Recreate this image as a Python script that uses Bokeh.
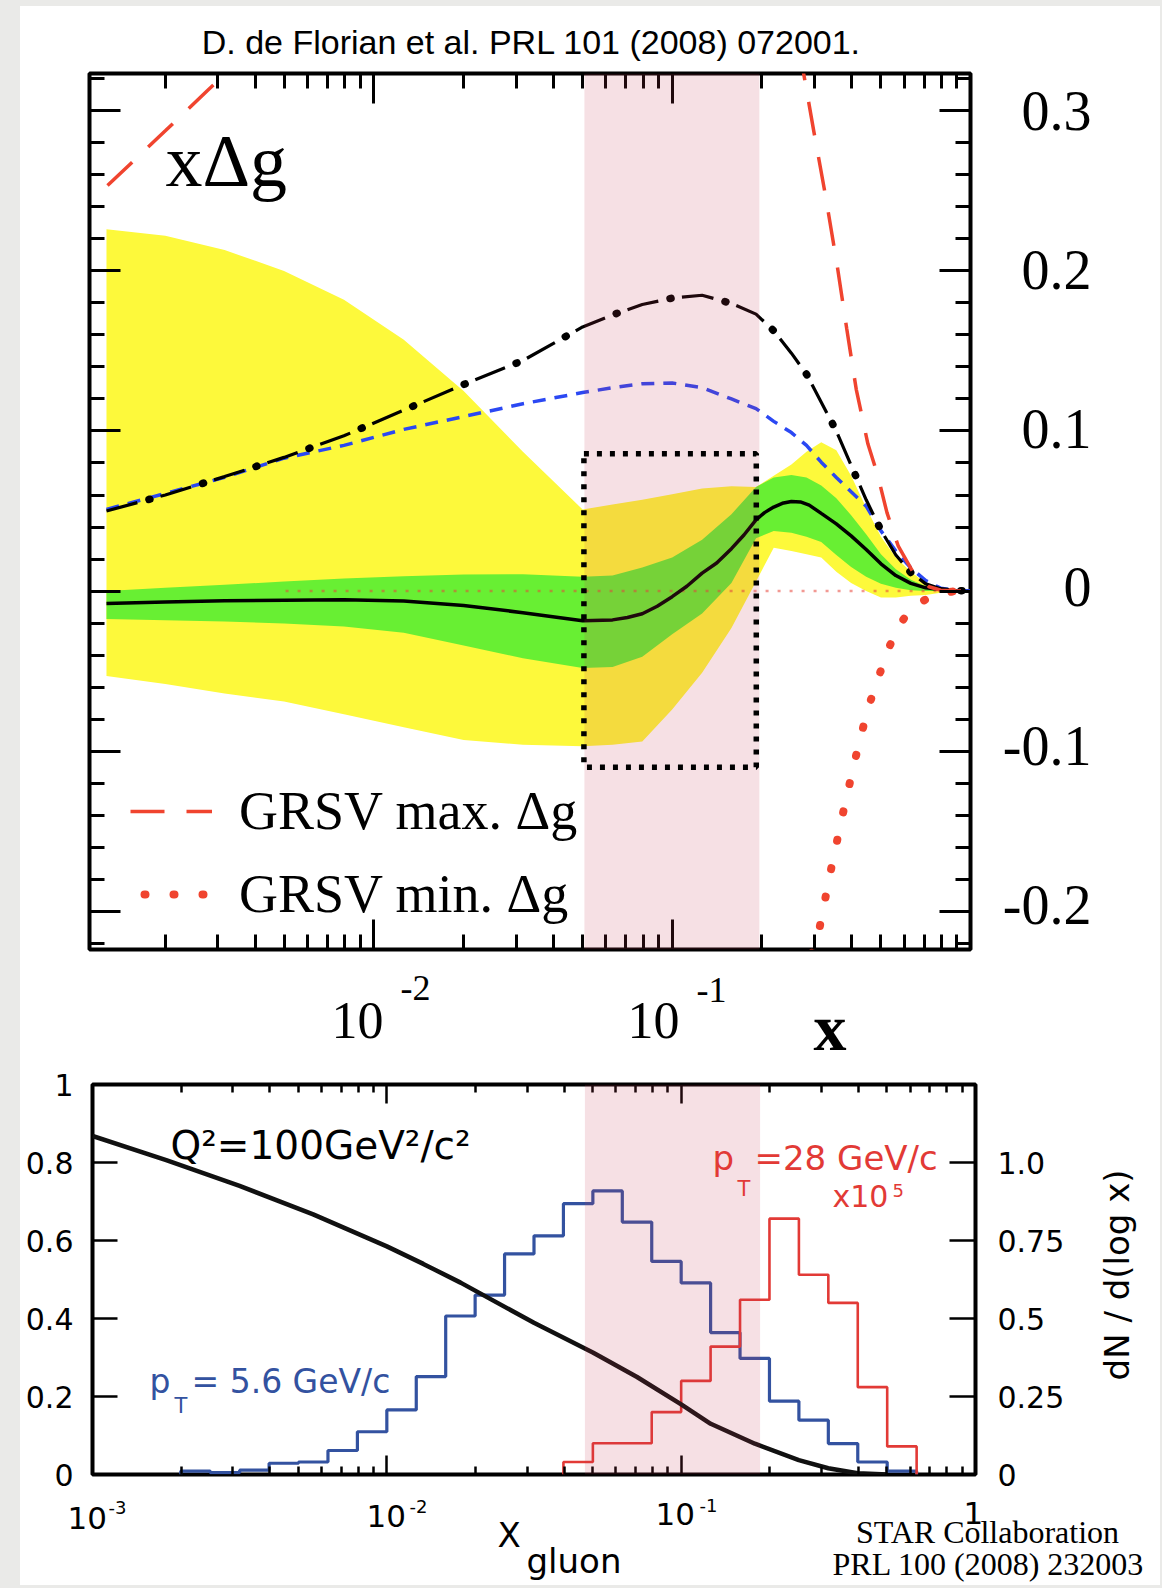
import numpy as np
from bokeh.plotting import figure
from bokeh.models import (Range1d, LinearAxis, LogAxis, FixedTicker, CustomJSTickFormatter,
                          BoxAnnotation, Label, Legend, LegendItem, Div)
from bokeh.layouts import row, column
from bokeh.embed import file_html
from bokeh.resources import INLINE

# ------------------------------------------------------------------
# DATA - top panel: x*Delta g (de Florian et al.)
# ------------------------------------------------------------------
dssv_x = [0.00127, 0.002, 0.00316, 0.005, 0.00794, 0.0126, 0.02, 0.0316, 0.0501, 0.0631,
          0.0794, 0.1, 0.126, 0.158, 0.191, 0.219, 0.251, 0.282, 0.316, 0.355,
          0.398, 0.447, 0.501, 0.562, 0.631, 0.708, 0.794, 0.891, 1.0]
band_dchi1_lo = [-0.0174, -0.0183, -0.019, -0.0202, -0.0221, -0.026, -0.034, -0.042, -0.048, -0.0475,
                 -0.041, -0.027, -0.014, 0.005, 0.033, 0.0375, 0.0365, 0.034, 0.0306, 0.0225,
                 0.015, 0.009, 0.0045, 0.002, 0.0005, 0.0, 0.0, 0.0, 0.0]
band_dchi1_hi = [0.0, 0.002, 0.004, 0.0059, 0.0078, 0.0093, 0.0103, 0.0105, 0.009, 0.0097,
                 0.0147, 0.021, 0.032, 0.048, 0.065, 0.071, 0.0725, 0.071, 0.066, 0.058,
                 0.0474, 0.0355, 0.023, 0.0137, 0.007, 0.003, 0.0012, 0.0003, 0.0]
band_dchi2_lo = [-0.053, -0.058, -0.064, -0.069, -0.077, -0.085, -0.093, -0.096, -0.097, -0.096,
                 -0.094, -0.074, -0.051, -0.023, 0.006, 0.027, 0.025, 0.023, 0.021, 0.012,
                 0.005, 0.0, -0.004, -0.004, -0.003, -0.0025, -0.001, -0.0003, 0.0]
band_dchi2_hi = [0.226, 0.222, 0.213, 0.200, 0.182, 0.157, 0.125, 0.087, 0.051, 0.054,
                 0.057, 0.0605, 0.064, 0.0655, 0.065, 0.072, 0.079, 0.087, 0.093, 0.088,
                 0.072, 0.052, 0.034, 0.021, 0.012, 0.005, 0.0015, 0.0003, 0.0]
grsv_std = [0.051, 0.061, 0.071, 0.083, 0.091, 0.101, 0.109, 0.117, 0.124, 0.127,
            0.1295, 0.130, 0.127, 0.120, 0.114, 0.106, 0.099, 0.091, 0.0805, 0.071,
            0.062, 0.053, 0.0376, 0.025, 0.0145, 0.0065, 0.0018, 0.0004, 0.0]
dns_curve = [0.050, 0.060, 0.0715, 0.0835, 0.097, 0.113, 0.129, 0.144, 0.165, 0.1725,
             0.179, 0.183, 0.1848, 0.1797, 0.173, 0.1626, 0.1486, 0.1355, 0.118, 0.100,
             0.0785, 0.057, 0.038, 0.0225, 0.0115, 0.0045, 0.0015, 0.0004, 0.0]

central_x = [0.00127, 0.002, 0.00316, 0.00501, 0.00794, 0.0126, 0.02, 0.0316, 0.0501, 0.0631,
             0.0708, 0.0794, 0.0891, 0.1, 0.112, 0.126, 0.141, 0.158, 0.174, 0.191,
             0.204, 0.219, 0.234, 0.251, 0.269, 0.288, 0.316, 0.355, 0.398, 0.447,
             0.501, 0.562, 0.631, 0.708, 0.794, 0.891, 1.0]
dssv_central = [-0.0077, -0.0068, -0.0061, -0.0058, -0.0055, -0.0062, -0.009, -0.0135, -0.0185, -0.018,
                -0.0165, -0.0142, -0.0095, -0.0035, 0.003, 0.0112, 0.0175, 0.0265, 0.035, 0.0445,
                0.049, 0.0525, 0.0548, 0.056, 0.0557, 0.0537, 0.0485, 0.042, 0.0345, 0.026,
                0.017, 0.0097, 0.0048, 0.002, 0.0009, 0.0003, 0.0]

grsv_max_left_x = [0.00128, 0.002, 0.00277, 0.00398]
grsv_max_left_y = [0.2533, 0.2875, 0.3127, 0.34]
grsv_max_right_x = [0.266, 0.2985, 0.3266, 0.3573, 0.3846, 0.414, 0.4529, 0.4875, 0.5248,
                    0.5728, 0.6457, 0.7261, 0.7943, 0.8913, 1.0]
grsv_max_right_y = [0.34, 0.287, 0.247, 0.2035, 0.164, 0.126, 0.092, 0.073, 0.049,
                    0.028, 0.011, 0.0027, 0.0005, 0.0, 0.0]
grsv_min_x = [0.285, 0.3126, 0.3396, 0.3707, 0.4074, 0.4519, 0.4842, 0.5188, 0.561,
              0.6353, 0.7603, 0.871, 1.0]
grsv_min_y = [-0.235, -0.2095, -0.1752, -0.1417, -0.1076, -0.074, -0.0575, -0.0412, -0.0249,
              -0.0100, -0.0021, -0.0003, 0.0]
zero_line_x = [0.00506, 1.0]
zero_line_y = [0.0, 0.0]

star_range_top = [0.0508, 0.196]          # shaded x-range (top panel)
box_x = [0.0506, 0.1914]                  # dotted box
box_y = [-0.110, 0.0857]

top_ytick_values = [-0.2, -0.1, 0.0, 0.1, 0.2, 0.3]
top_ytick_labels = ["-0.2", "-0.1", "0", "0.1", "0.2", "0.3"]

# ------------------------------------------------------------------
# DATA - bottom panel: STAR x_gluon distributions
# ------------------------------------------------------------------
blue_log_edges = [-2.7, -2.6, -2.5, -2.4, -2.3, -2.2, -2.1, -2.0, -1.9, -1.8, -1.7, -1.6, -1.5,
                  -1.4, -1.3, -1.2, -1.1, -1.0, -0.9, -0.8, -0.7, -0.6, -0.5, -0.4, -0.3, -0.2]
blue_pt56 = [0.011, 0.006, 0.014, 0.036, 0.040, 0.077, 0.137, 0.207, 0.314, 0.508, 0.575, 0.707,
             0.765, 0.868, 0.909, 0.809, 0.683, 0.614, 0.455, 0.372, 0.235, 0.174, 0.099, 0.040, 0.011]
red_log_edges = [-1.4, -1.3, -1.2, -1.1, -1.0, -0.9, -0.8, -0.7, -0.6, -0.5, -0.4, -0.3, -0.2]
red_pt28 = [0.04, 0.10, 0.10, 0.20, 0.30, 0.41, 0.56, 0.82, 0.64, 0.55, 0.28, 0.09]

gluon_x = [0.001, 0.00178, 0.00316, 0.00562, 0.01, 0.0133, 0.0178, 0.0316, 0.0501, 0.0708, 0.1,
           0.126, 0.178, 0.251, 0.316, 0.398, 0.501]
gluon_y = [0.868, 0.806, 0.740, 0.667, 0.585, 0.540, 0.492, 0.389, 0.313, 0.250, 0.180,
           0.130, 0.079, 0.037, 0.016, 0.003, 0.0]

star_range_bot = [0.0471, 0.1854]
bot_left_ticks = [0.0, 0.2, 0.4, 0.6, 0.8, 1.0]
bot_left_labels = ["0", "0.2", "0.4", "0.6", "0.8", "1"]
bot_right_ticks = [0.0, 0.25, 0.5, 0.75, 1.0]
bot_right_labels = ["0", "0.25", "0.5", "0.75", "1.0"]

# ------------------------------------------------------------------
# styling constants
# ------------------------------------------------------------------
YELLOW = "#fdf93b"
GREEN = "#68ef33"
PINK = "#c53852"
PINK_ALPHA = 0.156
RED = "#f0442f"
BLUE_DASH = "#2b48f3"
HIST_BLUE = "#3352a0"
HIST_RED = "#e23a36"
EDGE_GREY = "#eaeae8"
SERIF = "Liberation Serif"
SANS = "Liberation Sans"
DJV = "DejaVu Sans"

# page geometry (pixels from the page's top-left corner)
T_L, T_R, T_T, T_B = 89, 970, 73, 949       # top frame
TOP_XMIN, TOP_XMAX = 1.114e-3, 1.0
TOP_YMIN, TOP_YMAX = -0.2239, 0.3233
B_L, B_R, B_T, B_B = 92, 975, 1084, 1474    # bottom frame
SPLIT_Y = 1065                              # boundary between the two blocks
BOT_END = 1493                              # end of the bottom figure
BASE_SHIFT = 0.33    # bokeh draws 'alphabetic' text this many em lower than asked
MID_SHIFT = 0.09     # same for 'middle'


def tpx(px):
    a, b = np.log10(TOP_XMIN), np.log10(TOP_XMAX)
    return 10 ** (a + (px - T_L) / (T_R - T_L) * (b - a))


def tpy(py):
    return TOP_YMAX - (py - T_T) / (T_B - T_T) * (TOP_YMAX - TOP_YMIN)


def top_row_of(v):
    return T_T + (TOP_YMAX - v) / (TOP_YMAX - TOP_YMIN) * (T_B - T_T)


def bpx(px):
    return 10 ** (-3 + (px - B_L) / (B_R - B_L) * 3)


def bpy(py):
    return (B_B - py) / (B_B - B_T)


def hidden_labels(ax):
    ax.formatter = CustomJSTickFormatter(code="return '';")
    ax.major_label_text_font_size = "0px"
    ax.major_label_standoff = 0


def style_axis(ax, major_in, minor_in, width):
    ax.axis_line_color = None
    ax.major_tick_in = major_in
    ax.major_tick_out = 0
    ax.minor_tick_in = minor_in
    ax.minor_tick_out = 0
    ax.major_tick_line_width = width
    ax.minor_tick_line_width = width
    ax.major_tick_line_color = "black"
    ax.minor_tick_line_color = "black"


def strip(x0, x1, y0, y1):
    """a text-only figure whose data units are page pixels"""
    f = figure(width=x1 - x0, height=y1 - y0, x_range=Range1d(x0, x1), y_range=Range1d(y1, y0),
               x_axis_location=None, y_axis_location=None, toolbar_location=None,
               output_backend="svg", min_border=0)
    f.grid.visible = False
    f.outline_line_color = None
    f.background_fill_color = "white"
    f.border_fill_color = "white"
    return f


def fixed_row(py, size, baseline):
    px_size = float(size.replace("px", ""))
    if baseline == "alphabetic":
        return py - BASE_SHIFT * px_size
    if baseline == "middle":
        return py - MID_SHIFT * px_size
    return py


def put(fig, text, x, py, size, font=SERIF, color="black", align="left",
        baseline="alphabetic", style="normal", angle=0.0, yconv=None):
    """place text; py is the wanted page row of the baseline (or middle)"""
    row_px = py if angle else fixed_row(py, size, baseline)
    y = yconv(row_px) if yconv else row_px
    fig.add_layout(Label(x=x, y=y, text=text, text_font=font, text_font_size=size,
                         text_align=align, text_baseline=baseline, text_font_style=style,
                         text_color=color, angle=angle))


log_major = [1e-3, 1e-2, 1e-1, 1.0]
log_minor = [k * 10.0 ** e for e in (-3, -2, -1) for k in range(2, 10)]

# ------------------------------------------------------------------
# TOP MAIN FIGURE  (page x 20..974, y 69..953)
# ------------------------------------------------------------------
top = figure(width=954, height=884, x_axis_type="log",
             x_range=Range1d(TOP_XMIN, TOP_XMAX), y_range=Range1d(TOP_YMIN, TOP_YMAX),
             output_backend="svg", toolbar_location=None,
             min_border_left=69, min_border_right=4, min_border_top=4, min_border_bottom=4)
top.xgrid.visible = False
top.ygrid.visible = False
top.outline_line_color = "black"
top.outline_line_width = 4
top.outline_line_alpha = 1.0
top.background_fill_color = "white"
top.border_fill_color = "white"

ty_major = top_ytick_values
ty_minor = [round(-0.22 + 0.02 * i, 2) for i in range(28)]

xb = top.xaxis[0]
xb.ticker = FixedTicker(ticks=log_major, minor_ticks=log_minor)
hidden_labels(xb)
style_axis(xb, 30, 15, 3)
yl = top.yaxis[0]
yl.ticker = FixedTicker(ticks=ty_major, minor_ticks=ty_minor)
hidden_labels(yl)
style_axis(yl, 31, 15, 3)
xt = LogAxis(ticker=FixedTicker(ticks=log_major, minor_ticks=log_minor))
hidden_labels(xt)
style_axis(xt, 30, 15, 3)
top.add_layout(xt, "above")
yr = LinearAxis(ticker=FixedTicker(ticks=ty_major, minor_ticks=ty_minor))
hidden_labels(yr)
style_axis(yr, 31, 15, 3)
top.add_layout(yr, "right")

top.varea(x=dssv_x, y1=band_dchi2_lo, y2=band_dchi2_hi, fill_color=YELLOW)
top.varea(x=dssv_x, y1=band_dchi1_lo, y2=band_dchi1_hi, fill_color=GREEN)
top.line(zero_line_x, zero_line_y, line_color="#e8463a", line_alpha=0.55, line_width=2.5,
         line_dash="3 9")
top.line(central_x, dssv_central, line_color="black", line_width=3.5)
top.line(dssv_x, grsv_std, line_color=BLUE_DASH, line_width=3.5, line_dash="13 9")
top.line(dssv_x, dns_curve, line_color="black", line_width=3.2, line_dash="32 24")
top.line(dssv_x, dns_curve, line_color="black", line_width=7.5, line_dash="1 55",
         line_dash_offset=12, line_cap="round")
top.line(grsv_max_left_x, grsv_max_left_y, line_color=RED, line_width=3.5, line_dash="34 22")
r_max = top.line(grsv_max_right_x, grsv_max_right_y, line_color=RED, line_width=3.5,
                 line_dash="34 22")
r_min = top.line(grsv_min_x, grsv_min_y, line_color=RED, line_width=8, line_dash="1 28",
                 line_dash_offset=15, line_cap="round")

legend = Legend(items=[LegendItem(label="GRSV max. Δg", renderers=[r_max]),
                       LegendItem(label="GRSV min. Δg", renderers=[r_min])],
                location=(41, 24), orientation="vertical", padding=0, margin=0, spacing=21,
                glyph_width=82, glyph_height=60, label_height=60, label_standoff=27,
                label_text_font=SERIF, label_text_font_size="54px", label_text_color="black",
                border_line_color=None, background_fill_alpha=0)
top.add_layout(legend)

top.add_layout(BoxAnnotation(left=star_range_top[0], right=star_range_top[1],
                             fill_color=PINK, fill_alpha=PINK_ALPHA, line_color=None))
top.add_layout(BoxAnnotation(left=box_x[0], right=box_x[1], bottom=box_y[0], top=box_y[1],
                             fill_color=None, fill_alpha=0, line_color="black", line_alpha=1.0,
                             line_width=5.5, line_dash="5 8"))
put(top, "xΔg", tpx(165), 185, "74px", yconv=tpy)

# strips around the top panel
title_strip = strip(20, 1160, 6, 69)
put(title_strip, "D. de Florian et al. PRL 101 (2008) 072001.", 531, 53, "34px", font=SANS,
    align="center")

top_right = strip(974, 1160, 69, 953)
for v, lab in zip(top_ytick_values, top_ytick_labels):
    put(top_right, lab, 1091, top_row_of(v) + 2, "56px", align="right", baseline="middle")

top_xlab = strip(20, 1160, 953, SPLIT_Y)
put(top_xlab, "10", 331, 1037, "52px")
put(top_xlab, "-2", 400, 999, "36px")
put(top_xlab, "10", 627, 1037, "52px")
put(top_xlab, "-1", 696, 1001, "36px")
put(top_xlab, "x", 813, 1049, "66px", style="bold")

# ------------------------------------------------------------------
# BOTTOM MAIN FIGURE  (page x 20..1080, y SPLIT_Y..BOT_END)
# ------------------------------------------------------------------
bot = figure(width=1060, height=BOT_END - SPLIT_Y, x_axis_type="log",
             x_range=Range1d(1e-3, 1.0), y_range=Range1d(0, 1.0),
             output_backend="svg", toolbar_location=None,
             min_border_left=72, min_border_right=105,
             min_border_top=B_T - SPLIT_Y, min_border_bottom=BOT_END - B_B)
bot.extra_y_ranges = {"dn": Range1d(0, 1.25)}
bot.xgrid.visible = False
bot.ygrid.visible = False
bot.outline_line_color = "black"
bot.outline_line_width = 4
bot.background_fill_color = "white"
bot.border_fill_color = "white"

bx = bot.xaxis[0]
bx.ticker = FixedTicker(ticks=log_major, minor_ticks=log_minor)
hidden_labels(bx)
style_axis(bx, 19, 8, 2.5)

by = bot.yaxis[0]
by.ticker = FixedTicker(ticks=bot_left_ticks)
by.major_label_overrides = dict(zip(bot_left_ticks, bot_left_labels))
style_axis(by, 25, 0, 2.5)
by.major_label_text_font = DJV
by.major_label_text_font_size = "30px"
by.major_label_standoff = 19
by.major_label_text_color = "black"

bt = LogAxis(ticker=FixedTicker(ticks=log_major, minor_ticks=log_minor))
hidden_labels(bt)
style_axis(bt, 19, 8, 2.5)
bot.add_layout(bt, "above")

br = LinearAxis(y_range_name="dn", ticker=FixedTicker(ticks=bot_right_ticks),
                major_label_overrides=dict(zip(bot_right_ticks, bot_right_labels)))
style_axis(br, 26, 0, 2.5)
br.major_label_text_font = DJV
br.major_label_text_font_size = "30px"
br.major_label_standoff = 22
br.major_label_text_color = "black"
bot.add_layout(br, "right")


def stairs(log_edges, vals):
    e = [10.0 ** v for v in log_edges]
    return [e[0]] + e, [0.0] + list(vals) + [0.0]


sx, sy = stairs(blue_log_edges, blue_pt56)
bot.step(sx, sy, mode="after", line_color=HIST_BLUE, line_width=3.2, y_range_name="dn")
sx, sy = stairs(red_log_edges, red_pt28)
bot.step(sx, sy, mode="after", line_color=HIST_RED, line_width=2.6, y_range_name="dn")
bot.line(gluon_x, gluon_y, line_color="#111111", line_width=4.5)

bot.add_layout(BoxAnnotation(left=star_range_bot[0], right=star_range_bot[1],
                             fill_color=PINK, fill_alpha=PINK_ALPHA, line_color=None))

put(bot, "Q²=100GeV²/c²", bpx(170), 1158, "39px", font=DJV, yconv=bpy)
put(bot, "p", bpx(149), 1392, "33px", font=DJV, color=HIST_BLUE, yconv=bpy)
put(bot, "T", bpx(174), 1412, "21px", font=DJV, color=HIST_BLUE, yconv=bpy)
put(bot, "= 5.6 GeV/c", bpx(191), 1392, "33px", font=DJV, color=HIST_BLUE, yconv=bpy)
put(bot, "p", bpx(712), 1169, "34px", font=DJV, color=HIST_RED, yconv=bpy)
put(bot, "T", bpx(737), 1195, "21px", font=DJV, color=HIST_RED, yconv=bpy)
put(bot, "=28 GeV/c", bpx(754), 1169, "34px", font=DJV, color=HIST_RED, yconv=bpy)
put(bot, "x10", bpx(832), 1206, "30px", font=DJV, color=HIST_RED, yconv=bpy)
put(bot, "5", bpx(892), 1196, "18px", font=DJV, color=HIST_RED, yconv=bpy)

bot_right = strip(1080, 1160, SPLIT_Y, BOT_END)
put(bot_right, "dN / d(log x)", 1116, 1274, "34px", font=DJV, align="center",
    baseline="middle", angle=np.pi / 2)

bot_xlab = strip(20, 1160, BOT_END, 1585)
put(bot_xlab, "10", 67, 1528, "31px", font=DJV)
put(bot_xlab, "-3", 108, 1513, "18px", font=DJV)
put(bot_xlab, "10", 366, 1526, "31px", font=DJV)
put(bot_xlab, "-2", 409, 1512, "18px", font=DJV)
put(bot_xlab, "10", 655, 1524, "31px", font=DJV)
put(bot_xlab, "-1", 699, 1511, "18px", font=DJV)
put(bot_xlab, "1", 963, 1523, "31px", font=DJV)
put(bot_xlab, "X", 497, 1546, "34px", font=DJV)
put(bot_xlab, "gluon", 526, 1572, "34px", font=DJV)
put(bot_xlab, "STAR Collaboration", 987, 1542, "32px", font=SERIF, align="center")
put(bot_xlab, "PRL 100 (2008) 232003", 988, 1574, "32px", font=SERIF, align="center")

# ------------------------------------------------------------------
# page layout
# ------------------------------------------------------------------
edge_left = Div(text="", width=20, height=1588, margin=0, styles={"background-color": EDGE_GREY})
edge_right = Div(text="", width=2, height=1588, margin=0, styles={"background-color": EDGE_GREY})
edge_top = Div(text="", width=1140, height=6, margin=0, styles={"background-color": EDGE_GREY})
edge_bot = Div(text="", width=1140, height=3, margin=0, styles={"background-color": EDGE_GREY})
content = column(edge_top,
                 title_strip,
                 row(top, top_right, spacing=0),
                 top_xlab,
                 row(bot, bot_right, spacing=0),
                 bot_xlab,
                 edge_bot,
                 spacing=0)
page = row(edge_left, content, edge_right, spacing=0)

open("out.html", "w").write(file_html(page, INLINE))
